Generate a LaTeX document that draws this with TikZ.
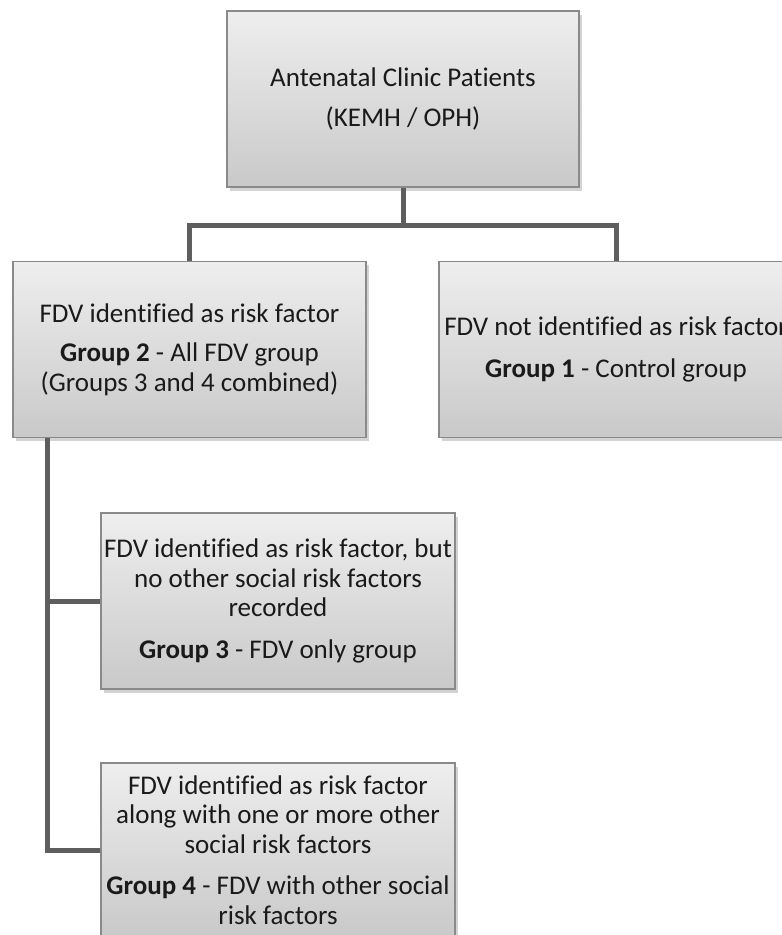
\documentclass[tikz,border=0pt]{standalone}
\usepackage{fontspec}
\setmainfont{Carlito}[Ligatures=NoCommon]
\usetikzlibrary{positioning, shadows}
\definecolor{BoxTop}{HTML}{EEEEEE}
\definecolor{BoxBottom}{HTML}{C9C9C9}
\definecolor{BoxEdge}{HTML}{8A8A8A}
\definecolor{LinkGray}{HTML}{5E5E5E}
\definecolor{InkBlack}{HTML}{1A1A1A}

\tikzset{
  groupbox/.style={draw=BoxEdge, line width=1.2pt, top color=BoxTop, bottom color=BoxBottom,
                   minimum width=353pt, minimum height=176pt, inner sep=0pt, align=center,
                   text=InkBlack, font=\fontsize{27}{29.5}\selectfont,
                   drop shadow={shadow xshift=2.5pt, shadow yshift=-3.5pt, opacity=0.35}},
  link/.style={draw=LinkGray, line width=5pt}
}

\begin{document}
\begin{tikzpicture}[x=1pt, y=-1pt]
\useasboundingbox (0,0) rectangle (782,935);
\clip (0,0) rectangle (782,935);

% boxes
\node[groupbox, minimum width=352pt] (clinic) at (403,99)
    {Antenatal Clinic Patients\\[10pt](KEMH / OPH)};
\node[groupbox] (allfdv) at (189.5,349.5)
    {FDV identified as risk factor\\[10pt]\textbf{Group 2} - All FDV group\\(Groups 3 and 4 combined)};
\node[groupbox, minimum width=354pt] (control) at (616,349.5)
    {FDV not identified as risk factor\\[12pt]\textbf{Group 1} - Control group};
\node[groupbox, minimum width=354pt] (fdvonly) at (278,601)
    {FDV identified as risk factor, but\\no other social risk factors\\recorded\\[12pt]\textbf{Group 3} - FDV only group};
\node[groupbox, minimum width=354pt, minimum height=174pt] (fdvother) at (278,850)
    {FDV identified as risk factor\\along with one or more other\\social risk factors\\[12pt]\textbf{Group 4} - FDV with other social\\risk factors};

% connectors
\coordinate (bus) at (403,225);
\draw[link] (clinic.south) -- (bus);
\draw[link] (allfdv.north) |- (bus) -| (control.north);
\coordinate (spine) at ([xshift=35pt]allfdv.south west);
\draw[link] (spine) |- (fdvonly.west);
\draw[link] (spine) |- (fdvother.west);
\end{tikzpicture}
\end{document}
